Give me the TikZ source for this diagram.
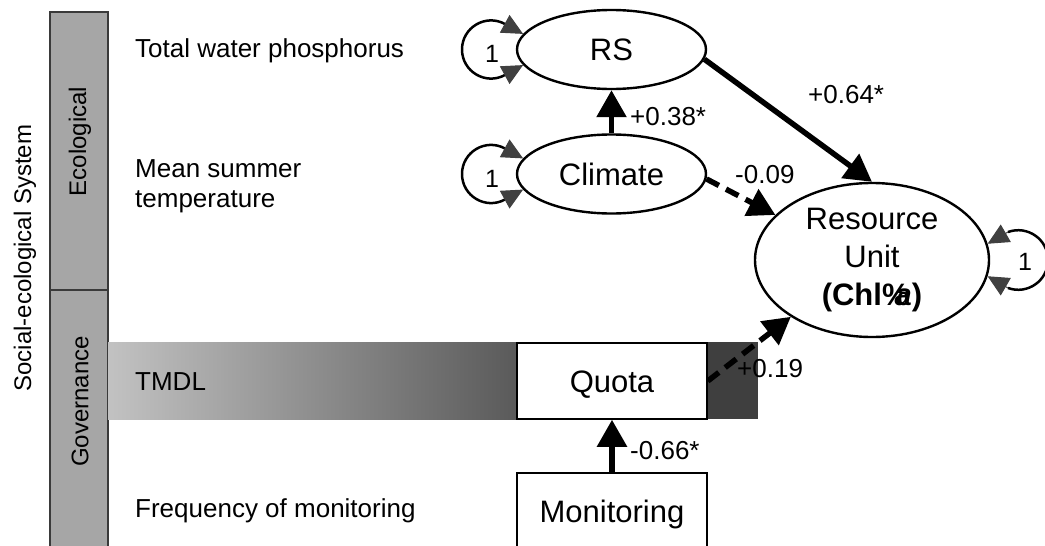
\documentclass[tikz,border=0pt]{standalone}
\usepackage{fontspec}
\setmainfont{Liberation Sans}
\usetikzlibrary{shapes.geometric,arrows.meta}

\definecolor{panelgray}{HTML}{A6A6A6}
\definecolor{paneledge}{HTML}{3A3A3A}
\definecolor{bandlight}{HTML}{C2C2C2}
\definecolor{bandmid}{HTML}{5A5A5A}
\definecolor{banddark}{HTML}{3F3F3F}
\definecolor{tipgray}{HTML}{404040}

\begin{document}
\begin{tikzpicture}[x=1pt,y=-1pt,
  latent/.style={draw, ellipse, line width=2.4pt, fill=white, inner sep=0pt,
    minimum width=189pt, minimum height=79pt, text height=22pt, text depth=0pt,
    font=\fontsize{31}{37}\selectfont},
  observed/.style={draw, rectangle, line width=1.5pt, fill=white, inner sep=0pt,
    minimum width=190pt, minimum height=76pt, text height=22pt, text depth=0pt,
    font=\fontsize{31}{37}\selectfont},
  rowlabel/.style={anchor=base west, inner sep=0pt, font=\fontsize{26}{30}\selectfont},
  coef/.style={anchor=base west, inner sep=0pt, font=\fontsize{26}{30}\selectfont},
  sidelabel/.style={rotate=90, inner sep=0pt, font=\fontsize{24}{28}\selectfont},
  varlabel/.style={inner sep=0pt, text height=18pt, text depth=0pt, font=\fontsize{25}{29}\selectfont},
  effect/.style={line width=5.5pt, -{Triangle[length=27pt,width=29pt]}},
  weakeffect/.style={effect, dash pattern=on 14pt off 8pt},
  looparc/.style={line width=2.5pt},
  looptip/.style={line width=1pt, color=tipgray, -{Triangle[length=21pt,width=20pt]}},
]
\useasboundingbox (0,0) rectangle (1045,546);

% side panels
\draw[fill=panelgray, draw=paneledge, line width=1.5pt] (50,12) rectangle (108,560);
\draw[draw=paneledge, line width=1.5pt] (50,290) -- (108,290);
\node[sidelabel] (ses) at (25,258) {Social-ecological System};
\node[sidelabel] (eco) at (80,141.5) {Ecological};
\node[sidelabel] (gov) at (80,401.5) {Governance};

% governance band behind the quota box
\shade[left color=bandlight, right color=bandmid] (108,342) rectangle (517,419);
\fill[banddark] (517,342) rectangle (758,419);

% row labels
\node[rowlabel] (tp) at (135,57) {Total water phosphorus};
\node[rowlabel] (mst1) at (135,177) {Mean summer};
\node[rowlabel] (mst2) at (135,207) {temperature};
\node[rowlabel] (tmdl) at (135,390) {TMDL};
\node[rowlabel] (freq) at (135,517) {Frequency of monitoring};

% model variables
\node[latent] (rs) at (611.5,49.5) {RS};
\node[latent] (climate) at (611.5,174) {Climate};
\node[latent, minimum width=234pt, minimum height=154pt, align=center,
  text height=, text depth=, font=\fontsize{31}{38}\selectfont] (ru) at (872,260)
  {Resource\\Unit\\\textbf{(Chl\%\kern-0.48em\textit{a})}};
\node[observed] (quota) at (612,381) {Quota};
\node[observed] (monitoring) at (612,511) {Monitoring};

% variances: loop arcs, then their arrowheads
\coordinate (rsa) at (505,24);     \coordinate (rsb) at (505,75);
\coordinate (rsl) at (462,49.5);
\coordinate (cla) at (505,148.5);  \coordinate (clb) at (505,199.5);
\coordinate (cll) at (462,174);
\coordinate (rua) at (1008,232);   \coordinate (rub) at (1008,288);
\coordinate (rur) at (1048,260);
\draw[looparc] (rsa) .. controls +(-19.4,-10.6) and +(0,-22) .. (rsl)
  .. controls +(0,22) and +(-19.4,10.6) .. (rsb);
\draw[looparc] (cla) .. controls +(-19.4,-10.6) and +(0,-22) .. (cll)
  .. controls +(0,22) and +(-19.4,10.6) .. (clb);
\draw[looparc] (rua) .. controls +(19.5,-7) and +(0,-20.7) .. (rur)
  .. controls +(0,20.7) and +(19.5,7) .. (rub);
\draw[looptip] (rsa) -- (rs.170);
\draw[looptip] (rsb) -- (rs.190);
\draw[looptip] (cla) -- (climate.170);
\draw[looptip] (clb) -- (climate.190);
\draw[looptip] (rua) -- (ru.8);
\draw[looptip] (rub) -- (ru.-8);
\node[varlabel] (v1) at (492,53) {1};
\node[varlabel] (v2) at (492,178) {1};
\node[varlabel] (v3) at (1025,261) {1};

% path coefficients
\draw[effect] (climate) -- (rs);
\draw[effect] (rs.-6) -- (ru.north);
\draw[weakeffect] (climate.-3) -- (ru.155);
\draw[weakeffect] (quota.east) -- (ru.215);
\draw[effect] (monitoring) -- (quota);

\node[coef] (c1) at (630,125) {+0.38*};
\node[coef] (c2) at (808,103) {+0.64*};
\node[coef] (c3) at (735,183) {-0.09};
\node[coef] (c4) at (737,377) {+0.19};
\node[coef] (c5) at (630,459) {-0.66*};
\end{tikzpicture}
\end{document}
